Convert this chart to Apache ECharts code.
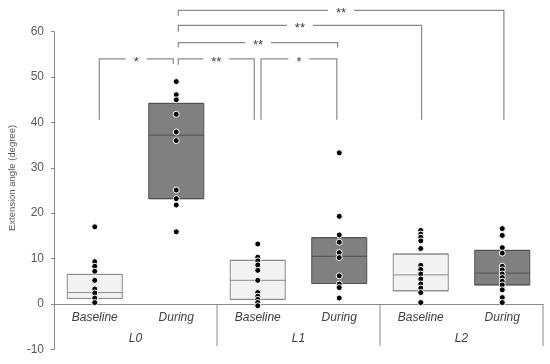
<!DOCTYPE html>
<html><head><meta charset="utf-8">
<script src="https://cdn.jsdelivr.net/npm/echarts@6/dist/echarts.min.js"></script>
<style>html,body{margin:0;padding:0;background:#fff}#c{width:550px;height:364px}</style>
</head><body><div id="c"></div>
<script>
const categories = ['Baseline', 'During', 'Baseline', 'During', 'Baseline', 'During'];
const groups = ['L0', 'L1', 'L2'];
const boxQ1 = [1.2, 23.2, 1.0, 4.5, 2.9, 4.2];
const boxMedian = [2.5, 37.2, 5.2, 10.5, 6.4, 6.8];
const boxQ3 = [6.5, 44.2, 9.6, 14.6, 11.0, 11.8];
const pointsL0Baseline = [17.0, 9.3, 8.3, 7.2, 5.2, 3.3, 2.4, 1.3, 0.3];
const pointsL0During = [49.0, 46.1, 45.0, 41.8, 37.9, 36.0, 25.1, 23.2, 21.8, 15.9];
const pointsL1Baseline = [13.2, 10.3, 9.5, 8.6, 7.4, 5.2, 2.5, 1.7, 1.0, 0.3, -0.4];
const pointsL1During = [33.3, 19.3, 15.2, 13.6, 11.3, 10.2, 6.2, 4.4, 3.6, 1.3];
const pointsL2Baseline = [16.2, 15.4, 14.7, 13.9, 12.2, 8.5, 7.6, 6.6, 5.5, 4.4, 3.5, 2.5, 0.3];
const pointsL2During = [16.6, 15.1, 12.4, 11.2, 8.3, 7.5, 6.6, 5.8, 5.0, 4.2, 3.1, 1.4, 0.3];
// significance brackets (category-position units / y values)
const bracketFrom = [0.055, 1.025, 2.04, 1.025, 1.025, 1.025];
const bracketTo = [0.963, 1.957, 2.97, 2.98, 4.01, 5.02];
const bracketTop = [54.0, 54.0, 54.0, 57.6, 61.4, 64.7];
const bracketFromEnd = [40.6, 52.7, 40.6, 56.5, 60.0, 63.5];
const bracketToEnd = [52.9, 40.6, 40.6, 56.5, 40.6, 40.6];
const bracketLabels = ['*', '**', '*', '**', '**', '**'];
const yMin = -10, yMax = 60, yStep = 10;

const allPoints = [pointsL0Baseline, pointsL0During, pointsL1Baseline, pointsL1During, pointsL2Baseline, pointsL2During];
const LIGHT = {color: '#f2f2f2', borderColor: '#8a8a8a', borderWidth: 1};
const DARK = {color: '#808080', borderColor: '#505050', borderWidth: 1};

const boxData = categories.map((c, i) => ({
  value: [boxQ1[i], boxQ1[i], boxMedian[i], boxQ3[i], boxQ3[i]],
  itemStyle: i % 2 === 0 ? LIGHT : DARK
}));
const scatterData = [];
allPoints.forEach((arr, i) => arr.forEach(v => scatterData.push([i, v])));
const bracketData = bracketFrom.map((f, i) => [f, bracketTo[i], bracketTop[i], bracketFromEnd[i], bracketToEnd[i]]);
const FONT = 'Liberation Sans, Arial, sans-serif';
const LINE = '#8a8a8a';

const chart = echarts.init(document.getElementById('c'), null, {renderer: 'canvas'});
chart.setOption({
  animation: false,
  backgroundColor: '#fff',
  grid: {left: 54, right: 7, top: 31.7, bottom: 14.7, containLabel: false, outerBoundsMode: 'none'},
  xAxis: [{
    type: 'category', data: categories, boundaryGap: true,
    axisLine: {onZero: true, lineStyle: {color: LINE, width: 1}},
    axisTick: {show: false},
    axisLabel: {show: false},
    splitLine: {show: false}
  }, {
    type: 'value', min: -0.5, max: 5.5, show: false,
    axisLine: {onZero: false}
  }],
  yAxis: {
    type: 'value', min: yMin, max: yMax, interval: yStep,
    axisLine: {show: true, onZero: false, lineStyle: {color: LINE, width: 1}},
    axisTick: {show: true, inside: false, length: 3, lineStyle: {color: LINE}},
    axisLabel: {color: '#595959', fontSize: 12, fontFamily: FONT, margin: 10},
    splitLine: {show: false}
  },
  graphic: [{
    type: 'text', x: 12, y: 178, rotation: Math.PI / 2,
    style: {text: 'Extension angle (degree)', font: '9.5px ' + FONT, fill: '#595959', align: 'center', verticalAlign: 'middle'}
  }],
  series: [{
    type: 'boxplot', xAxisIndex: 0, yAxisIndex: 0,
    boxWidth: [55, 55], data: boxData, silent: true,
    emphasis: {disabled: true}
  }, {
    type: 'scatter', xAxisIndex: 0, yAxisIndex: 0, data: scatterData,
    symbolSize: 6, silent: true,
    itemStyle: {color: '#000', borderColor: '#fff', borderWidth: 1, opacity: 1},
    emphasis: {disabled: true}
  }, {
    type: 'custom', xAxisIndex: 1, yAxisIndex: 0, silent: true, clip: false,
    data: bracketData,
    encode: {x: [0, 1], y: [2, 3, 4]},
    renderItem: function (params, api) {
      const i = params.dataIndex;
      const pFromEnd = api.coord([api.value(0), api.value(3)]);
      const pFromTop = api.coord([api.value(0), api.value(2)]);
      const pToTop = api.coord([api.value(1), api.value(2)]);
      const pToEnd = api.coord([api.value(1), api.value(4)]);
      const cx = (pFromTop[0] + pToTop[0]) / 2;
      const cy = pFromTop[1];
      const label = bracketLabels[i];
      const gap = label.length === 1 ? 10.5 : 13;
      const ls = {stroke: LINE, lineWidth: 1.2, fill: 'none'};
      return {type: 'group', children: [
        {type: 'polyline', shape: {points: [pFromEnd, pFromTop, [cx - gap, cy]]}, style: ls},
        {type: 'polyline', shape: {points: [[cx + gap, cy], pToTop, pToEnd]}, style: ls},
        {type: 'text', x: cx, y: cy + 3, style: {text: label, font: '13px ' + FONT, fill: '#404040', align: 'center', verticalAlign: 'middle'}}
      ]};
    }
  }, {
    type: 'custom', xAxisIndex: 1, yAxisIndex: 0, silent: true, clip: false,
    data: categories.map((c, i) => [i, 0]),
    renderItem: function (params, api) {
      const p = api.coord([api.value(0), api.value(1)]);
      return {type: 'text', x: p[0], y: p[1] + 14, style: {text: categories[params.dataIndex], font: 'italic 12px ' + FONT, fill: '#404040', align: 'center', verticalAlign: 'middle'}};
    }
  }, {
    type: 'custom', xAxisIndex: 1, yAxisIndex: 0, silent: true, clip: false,
    data: groups.map((g, i) => [i * 2 + 0.5, 0]),
    renderItem: function (params, api) {
      const i = params.dataIndex;
      const xSep = api.value(0) + 1;
      const top = api.coord([xSep, 0]);
      const bot = api.coord([xSep, -9.3]);
      const lab = api.coord([api.value(0), -7.7]);
      return {type: 'group', children: [
        {type: 'line', shape: {x1: top[0], y1: top[1], x2: bot[0], y2: bot[1]}, style: {stroke: LINE, lineWidth: 1}},
        {type: 'text', x: lab[0], y: lab[1], style: {text: groups[i], font: 'italic 12px ' + FONT, fill: '#404040', align: 'center', verticalAlign: 'middle'}}
      ]};
    }
  }]
});
</script></body></html>
